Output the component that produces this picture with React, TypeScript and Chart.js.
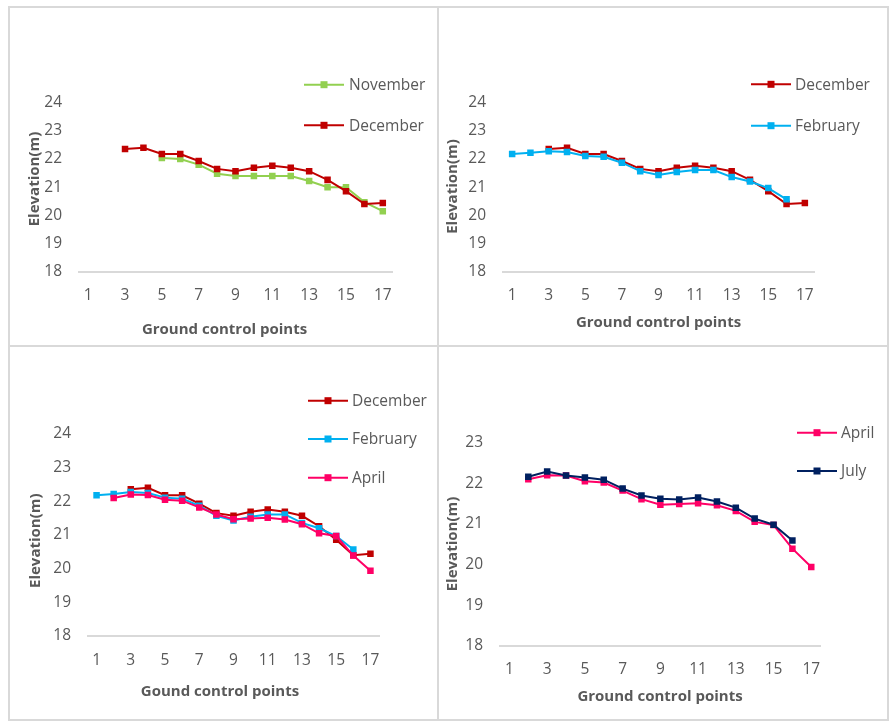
import React, { useEffect, useRef } from "react";
import { Chart, registerables } from "chart.js";

Chart.register(...registerables);

// ---------- data ----------
const categories = ["1","2","3","4","5","6","7","8","9","10","11","12","13","14","15","16","17"];
const yTicks1 = [18, 24];
const yTicks4 = [18, 23];

const november = [null, null, null, null, 22.04, 22.0, 21.8, 21.48, 21.4, 21.4, 21.4, 21.4, 21.22, 21.0, 21.0, 20.47, 20.15];
const december = [null, null, 22.36, 22.4, 22.18, 22.18, 21.93, 21.65, 21.57, 21.69, 21.76, 21.69, 21.57, 21.26, 20.86, 20.4, 20.44];
const february = [22.18, 22.22, 22.28, 22.25, 22.11, 22.08, 21.87, 21.57, 21.43, 21.54, 21.61, 21.61, 21.36, 21.2, 20.97, 20.57, null];
const april = [null, 22.1, 22.2, 22.19, 22.05, 22.02, 21.82, 21.61, 21.47, 21.49, 21.51, 21.46, 21.32, 21.05, 20.97, 20.39, 19.94];
const july = [null, 22.16, 22.29, 22.19, 22.14, 22.09, 21.87, 21.7, 21.62, 21.6, 21.65, 21.55, 21.4, 21.13, 20.98, 20.59, null];

const seriesColors: Record<string, string> = {
  November: "#92D050",
  December: "#C00000",
  February: "#00B0F0",
  April: "#FF0066",
  July: "#002060",
};
const seriesData: Record<string, (number | null)[]> = {
  November: november,
  December: december,
  February: february,
  April: april,
  July: july,
};

const FONT = "'Open Sans', sans-serif";
const TEXT = "#595959";

type PanelCfg = {
  left: number; top: number; w: number; h: number;
  series: string[];
  yRange: number[];
  area: { l: number; r: number; t: number; b: number };
  legend: { lineX: number; textX: number; rows: number[] };
  yTitle: { x: number; y: number };
  xTitle: { x: number; y: number; text: string };
};

const panels: PanelCfg[] = [
  {
    left: 10, top: 8, w: 427, h: 337,
    series: ["November", "December"], yRange: yTicks1,
    area: { l: 69, r: 382, t: 94.7, b: 263.7 },
    legend: { lineX: 294, textX: 339, rows: [76.7, 117.3] },
    yTitle: { x: 25, y: 171 },
    xTitle: { x: 214.5, y: 322, text: "Ground control points" },
  },
  {
    left: 439, top: 8, w: 448, h: 337,
    series: ["December", "February"], yRange: yTicks1,
    area: { l: 64, r: 375, t: 94.7, b: 263.7 },
    legend: { lineX: 312, textX: 356, rows: [76.3, 117.7] },
    yTitle: { x: 13.5, y: 178.5 },
    xTitle: { x: 219.5, y: 314.7, text: "Ground control points" },
  },
  {
    left: 10, top: 347, w: 427, h: 372,
    series: ["December", "February", "April"], yRange: yTicks1,
    area: { l: 78, r: 369, t: 87, b: 289 },
    legend: { lineX: 298, textX: 342, rows: [53.7, 92, 130.7] },
    yTitle: { x: 25.5, y: 193.7 },
    xTitle: { x: 210, y: 344.7, text: "Gound control points" },
  },
  {
    left: 439, top: 347, w: 448, h: 372,
    series: ["April", "July"], yRange: yTicks4,
    area: { l: 61, r: 381.7, t: 95.7, b: 298.7 },
    legend: { lineX: 358, textX: 402, rows: [85.7, 124] },
    yTitle: { x: 14, y: 197 },
    xTitle: { x: 221, y: 349.7, text: "Ground control points" },
  },
];

const decoPlugin = {
  id: "deco",
  afterDraw(chart: any, _args: any, opts: any) {
    const ctx = chart.ctx as CanvasRenderingContext2D;
    const cfg: PanelCfg = opts.cfg;
    ctx.save();
    // legend
    chart.data.datasets.forEach((ds: any, i: number) => {
      const y = cfg.legend.rows[i];
      const x0 = cfg.legend.lineX;
      ctx.strokeStyle = ds.borderColor;
      ctx.lineWidth = 2;
      ctx.beginPath();
      ctx.moveTo(x0, y);
      ctx.lineTo(x0 + 40, y);
      ctx.stroke();
      ctx.fillStyle = ds.backgroundColor;
      ctx.fillRect(x0 + 20 - 3.5, y - 3.5, 7, 7);
      ctx.fillStyle = TEXT;
      ctx.font = `15.5px ${FONT}`;
      ctx.textAlign = "left";
      ctx.textBaseline = "middle";
      ctx.fillText(ds.label, cfg.legend.textX, y + 1);
    });
    // axis titles
    ctx.fillStyle = TEXT;
    ctx.font = `bold 15px ${FONT}`;
    ctx.textAlign = "center";
    ctx.textBaseline = "middle";
    ctx.fillText(cfg.xTitle.text, cfg.xTitle.x, cfg.xTitle.y);
    ctx.translate(cfg.yTitle.x, cfg.yTitle.y);
    ctx.rotate(-Math.PI / 2);
    ctx.fillText("Elevation(m)", 0, 0);
    ctx.restore();
  },
};

function Panel({ cfg }: { cfg: PanelCfg }) {
  const ref = useRef<HTMLCanvasElement | null>(null);
  useEffect(() => {
    if (!ref.current) return;
    const n = cfg.series.length;
    const chart = new Chart(ref.current, {
      type: "line",
      data: {
        labels: categories,
        datasets: cfg.series.map((name, i) => ({
          label: name,
          data: seriesData[name],
          borderColor: seriesColors[name],
          backgroundColor: seriesColors[name],
          pointBackgroundColor: seriesColors[name],
          pointBorderColor: seriesColors[name],
          pointStyle: "rect",
          pointRadius: 4.6,
          pointBorderWidth: 0,
          borderWidth: 2,
          tension: 0,
          spanGaps: false,
          order: n - 1 - i,
        })),
      },
      options: {
        responsive: false,
        animation: false,
        events: [],
        layout: {
          padding: { left: 0, top: cfg.area.t, right: cfg.w - cfg.area.r, bottom: 0 },
        },
        plugins: {
          legend: { display: false },
          tooltip: { enabled: false },
          title: { display: false },
          deco: { cfg },
        } as any,
        scales: {
          x: {
            type: "category",
            offset: true,
            grid: { display: false, drawTicks: false },
            border: { display: true, color: "#D9D9D9", width: 2 },
            ticks: {
              autoSkip: false,
              maxRotation: 0,
              padding: 15,
              color: TEXT,
              font: { family: FONT, size: 15.5 },
              callback: (_v: any, idx: number) => (idx % 2 === 0 ? categories[idx] : ""),
            },
            afterFit: (scale: any) => {
              scale.height = cfg.h - cfg.area.b;
            },
          },
          y: {
            min: cfg.yRange[0],
            max: cfg.yRange[1],
            grid: { display: false, drawTicks: false },
            border: { display: false },
            ticks: {
              stepSize: 1,
              padding: 17,
              color: TEXT,
              font: { family: FONT, size: 15.5 },
            },
            afterFit: (scale: any) => {
              scale.width = cfg.area.l;
            },
          },
        },
      },
      plugins: [decoPlugin],
    } as any);
    return () => chart.destroy();
  }, [cfg]);
  return (
    <canvas
      ref={ref}
      width={cfg.w}
      height={cfg.h}
      style={{ position: "absolute", left: cfg.left, top: cfg.top, width: cfg.w, height: cfg.h }}
    />
  );
}

export default function App() {
  const line = "#D9D9D9";
  return (
    <div style={{ position: "fixed", left: 0, top: 0, width: 896, height: 728, background: "#fff" }}>
      <div style={{ position: "absolute", left: 8, top: 6, width: 877, height: 711, border: `2px solid ${line}` }} />
      <div style={{ position: "absolute", left: 437, top: 6, width: 2, height: 715, background: line }} />
      <div style={{ position: "absolute", left: 8, top: 345, width: 881, height: 2, background: line }} />
      {panels.map((p, i) => (
        <Panel key={i} cfg={p} />
      ))}
    </div>
  );
}
